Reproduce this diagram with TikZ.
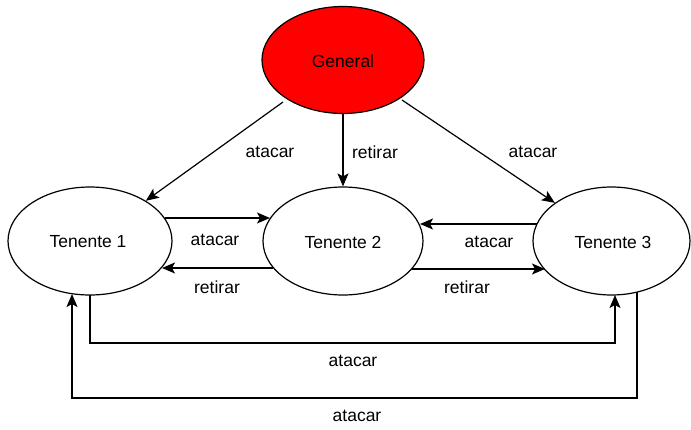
\documentclass[tikz,border=0pt]{standalone}
\usepackage{fontspec}
\setmainfont{Liberation Sans}
\usetikzlibrary{shapes.geometric,arrows.meta,calc}
\begin{document}
\begin{tikzpicture}[x=1pt,y=-1pt,
  state/.style={ellipse,draw=black,line width=1.2pt,inner sep=0pt},
  lbl/.style={font=\fontsize{17.5}{20}\selectfont,inner sep=0pt},
  conn/.style={line width=1.2pt,-{Stealth[length=13pt,width=11pt,inset=3pt]}}]
\useasboundingbox (0,0) rectangle (691,429);
\node[state,fill=red,minimum width=162pt,minimum height=107pt] (gen) at (343,60) {};
\node[lbl] (genl) at (343,61) {General};
\node[state,minimum width=164pt,minimum height=108pt] (t1) at (90,241) {};
\node[state,minimum width=160pt,minimum height=108pt] (t2) at (343,241) {};
\node[state,minimum width=157pt,minimum height=108pt] (t3) at (611.5,241) {};
\node[lbl] (t1l) at (88,242) {Tenente 1};
\node[lbl] (t2l) at (343,242) {Tenente 2};
\node[lbl] (t3l) at (613,242) {Tenente 3};
% labels
\node[lbl] (l1) at (270,152) {atacar};
\node[lbl] (l2) at (375,152) {retirar};
\node[lbl] (l3) at (533,152) {atacar};
\node[lbl] (l4) at (215,240) {atacar};
\node[lbl] (l5) at (217,287) {retirar};
\node[lbl] (l6) at (489,242) {atacar};
\node[lbl] (l7) at (467,287) {retirar};
\node[lbl] (l8) at (353,361) {atacar};
\node[lbl] (l9) at (357,416) {atacar};
% connector end points
\coordinate (g1) at (283,102);
\coordinate (g3) at (402,100);
\coordinate (a1) at (165,218);
\coordinate (a2) at (270,218);
\coordinate (b2) at (273,268);
\coordinate (b1) at (162,268);
\coordinate (c3) at (537,224);
\coordinate (c2) at (420,224);
\coordinate (d2) at (412,269);
\coordinate (d3) at (545,269);
\coordinate (e1) at (90,295);
\coordinate (e3) at (615,295);
\coordinate (f3) at (637,292);
\coordinate (f1) at (72,294);
% connectors
\draw[conn] (g1) -- (t1);
\draw[conn] (gen) -- (t2);
\draw[conn] (g3) -- (t3);
\draw[conn] (a1) -- (a2);
\draw[conn] (b2) -- (b1);
\draw[conn] (c3) -- (c2);
\draw[conn] (d2) -- (d3);
\draw[conn] (e1) -- (90,343) -- (615,343) -- (e3);
\draw[conn] (f3) -- (637,398) -- (72,398) -- (f1);
\end{tikzpicture}
\end{document}
